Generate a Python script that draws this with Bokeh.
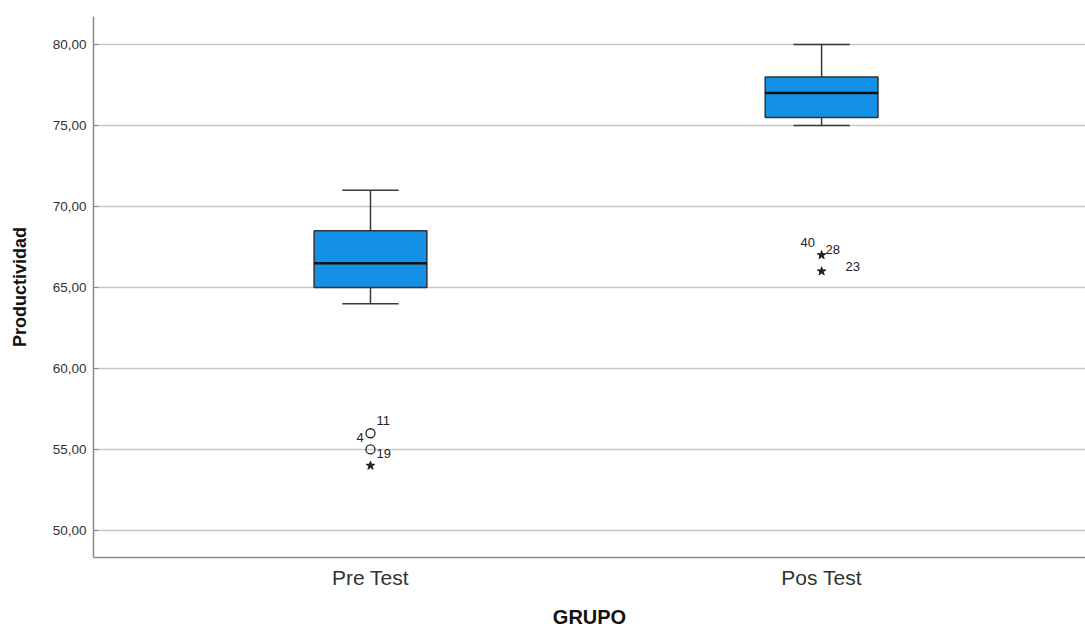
from bokeh.plotting import figure
from bokeh.models import ColumnDataSource, Range1d, FixedTicker, CustomJSTickFormatter
from bokeh.transform import dodge
from bokeh.embed import file_html
from bokeh.resources import INLINE
from bokeh.core.properties import value

# ---- data ----
groups = ["Pre Test", "Pos Test"]
group_pos = [1, 2]
whisker_low = [64, 75]
q1 = [65, 75.5]
median = [66.5, 77]
q3 = [68.5, 78]
whisker_high = [71, 80]

# outliers
circle_grp = [1, 1]
circle_val = [56, 55]
star_grp = [1, 2, 2]
star_val = [54, 67, 66]

label_grp = [1, 1, 1, 2, 2, 2]
label_val = [56, 56, 55, 67, 67, 66]
label_txt = ["11", "4", "19", "40", "28", "23"]

y_ticks = [50, 55, 60, 65, 70, 75, 80]

# ---- figure ----
p = figure(frame_width=992, frame_height=541, output_backend="svg", toolbar_location=None,
           x_range=Range1d(0.386, 2.585), y_range=Range1d(48.33, 81.73),
           min_border_left=93, min_border_bottom=66, min_border_top=16, min_border_right=0)
p.outline_line_color = None
p.background_fill_color = "white"

box_w = 0.25
cap_w = 0.125

src = ColumnDataSource(dict(x=group_pos, lo=whisker_low, q1=q1, med=median, q3=q3, hi=whisker_high))

wc = "#3a3a3a"
# whiskers
p.segment(x0="x", y0="hi", x1="x", y1="q3", source=src, line_color=wc, line_width=1.5)
p.segment(x0="x", y0="lo", x1="x", y1="q1", source=src, line_color=wc, line_width=1.5)
p.segment(x0=dodge("x", -cap_w / 2), y0="hi", x1=dodge("x", cap_w / 2), y1="hi",
          source=src, line_color=wc, line_width=1.5)
p.segment(x0=dodge("x", -cap_w / 2), y0="lo", x1=dodge("x", cap_w / 2), y1="lo",
          source=src, line_color=wc, line_width=1.5)

# boxes
p.vbar(x="x", bottom="q1", top="q3", width=box_w, source=src,
       fill_color="#1490e6", line_color="#333333", line_width=1.5)
p.segment(x0=dodge("x", -box_w / 2), y0="med", x1=dodge("x", box_w / 2), y1="med",
          source=src, line_color="#111111", line_width=2.5)

# outliers
p.scatter(x=circle_grp, y=circle_val, marker="circle", size=9, fill_color=None,
          line_color="#222222", line_width=1.3)
p.scatter(x=star_grp, y=star_val, marker="star", size=9, fill_color="#222222",
          line_color="#222222")

x_offs = [6, -14, 6, -21, 4, 24]
y_offs = [-13, 4, 4, -13, -6, -5]
lsrc = ColumnDataSource(dict(x=label_grp, y=label_val, t=label_txt, xo=x_offs, yo=y_offs))
p.text(x="x", y="y", text="t", x_offset="xo", y_offset="yo", source=lsrc,
       text_font=value("Liberation Sans"), text_font_size="13px", text_color="#222222",
       text_baseline="middle", text_align="left")

# axes
p.xaxis.ticker = FixedTicker(ticks=group_pos)
p.xaxis.major_label_overrides = {1: groups[0], 2: groups[1]}
p.xaxis.major_tick_line_color = None
p.xaxis.minor_tick_line_color = None
p.xaxis.major_label_text_font = "Liberation Sans"
p.xaxis.major_label_text_font_size = "21px"
p.xaxis.major_label_text_color = "#333333"
p.xaxis.major_label_standoff = 2
p.xaxis.axis_line_color = "#8a8a8a"
p.xaxis.axis_line_width = 1.5
p.xaxis.axis_label = "GRUPO"
p.xaxis.axis_label_text_font = "Liberation Sans"
p.xaxis.axis_label_text_font_style = "bold"
p.xaxis.axis_label_text_font_size = "20px"
p.xaxis.axis_label_text_color = "#111111"
p.xaxis.axis_label_standoff = 14

p.yaxis.ticker = FixedTicker(ticks=y_ticks)
p.yaxis.formatter = CustomJSTickFormatter(code="return tick.toFixed(2).replace('.', ',');")
p.yaxis.minor_tick_line_color = None
p.yaxis.major_tick_in = 5
p.yaxis.major_tick_out = 0
p.yaxis.major_tick_line_color = "#8a8a8a"
p.yaxis.axis_line_color = "#8a8a8a"
p.yaxis.axis_line_width = 1.5
p.yaxis.major_label_text_font = "Liberation Sans"
p.yaxis.major_label_text_font_size = "13.5px"
p.yaxis.major_label_text_color = "#333333"
p.yaxis.major_label_standoff = 7
p.yaxis.axis_label = "Productividad"
p.yaxis.axis_label_text_font = "Liberation Sans"
p.yaxis.axis_label_text_font_style = "bold"
p.yaxis.axis_label_text_font_size = "18px"
p.yaxis.axis_label_text_color = "#111111"
p.yaxis.axis_label_standoff = 20

p.xgrid.grid_line_color = None
p.ygrid.ticker = FixedTicker(ticks=y_ticks)
p.ygrid.grid_line_color = "#c8c8c8"
p.ygrid.grid_line_width = 1.5

open("out.html", "w").write(file_html(p, INLINE))
